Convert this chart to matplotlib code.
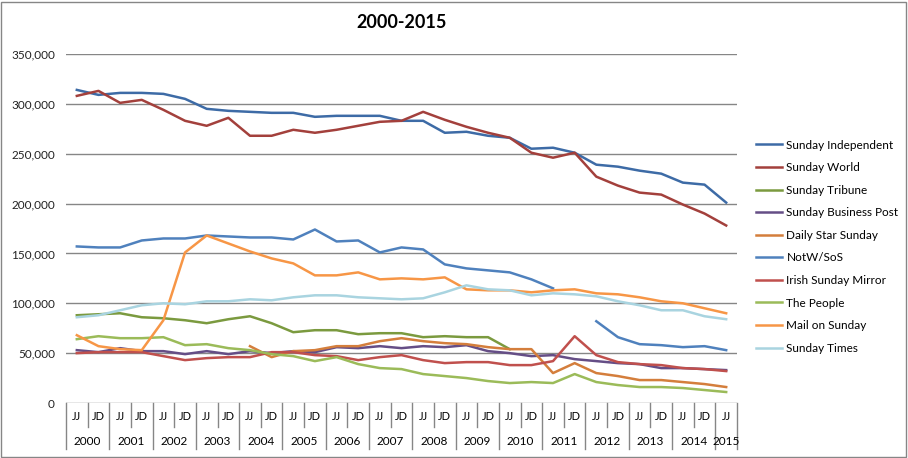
import numpy as np
import matplotlib
matplotlib.use('Agg')
import matplotlib.pyplot as plt
from matplotlib.patches import Rectangle

plt.rcParams['font.family'] = ['Lato', 'DejaVu Sans']

nan = np.nan
years = [str(y) for y in range(2000, 2016)]
periods = ['JJ', 'JD'] * 15 + ['JJ']

sunday_independent = [314, 309, 311, 311, 310, 305, 295, 293, 292, 291, 291, 287, 288, 288, 288, 283,
                      283, 271, 272, 268, 266, 255, 256, 251, 239, 237, 233, 230, 221, 219, 201]
sunday_world = [308, 313, 301, 304, 294, 283, 278, 286, 268, 268, 274, 271, 274, 278, 282, 283,
                292, 284, 277, 271, 266, 251, 246, 251, 227, 218, 211, 209, 199, 190, 178]
sunday_tribune = [88, 89, 90, 86, 85, 83, 80, 84, 87, 80, 71, 73, 73, 69, 70, 70,
                  66, 67, 66, 66, 54, nan, nan, nan, nan, nan, nan, nan, nan, nan, nan]
sunday_business_post = [53, 51, 55, 52, 52, 49, 52, 49, 52, 50, 52, 51, 56, 55, 57, 55,
                        57, 56, 58, 52, 50, 47, 48, 44, 42, 40, 39, 35, 35, 34, 33]
daily_star_sunday = [nan, nan, nan, nan, nan, nan, nan, nan, 57, 46, 52, 53, 57, 57, 62, 65,
                     62, 60, 59, 56, 54, 54, 30, 40, 30, 27, 23, 23, 21, 19, 16]
notw_sos = [157, 156, 156, 163, 165, 165, 168, 167, 166, 166, 164, 174, 162, 163, 151, 156,
            154, 139, 135, 133, 131, 124, 115, nan, 82, 66, 59, 58, 56, 57, 53]
irish_sunday_mirror = [50, 51, 51, 51, 47, 43, 45, 46, 46, 51, 51, 48, 47, 43, 46, 48,
                       43, 40, 41, 41, 38, 38, 42, 67, 48, 41, 39, 38, 35, 34, 32]
the_people = [64, 67, 65, 65, 66, 58, 59, 55, 53, 49, 47, 42, 46, 39, 35, 34,
              29, 27, 25, 22, 20, 21, 20, 29, 21, 18, 16, 16, 15, 13, 11]
mail_on_sunday = [68, 57, 54, 53, 83, 151, 168, 160, 152, 145, 140, 128, 128, 131, 124, 125,
                  124, 126, 114, 113, 113, 111, 113, 114, 110, 109, 106, 102, 100, 95, 90]
sunday_times = [86, 88, 93, 98, 100, 99, 102, 102, 104, 103, 106, 108, 108, 106, 105, 104,
                105, 111, 118, 114, 113, 108, 110, 109, 107, 102, 98, 93, 93, 87, 84]

series = [
    ('Sunday Independent', sunday_independent, '#3D6BA6'),
    ('Sunday World', sunday_world, '#A3403C'),
    ('Sunday Tribune', sunday_tribune, '#7B9A3F'),
    ('Sunday Business Post', sunday_business_post, '#654E86'),
    ('Daily Star Sunday', daily_star_sunday, '#D47E3C'),
    ('NotW/SoS', notw_sos, '#4F81BD'),
    ('Irish Sunday Mirror', irish_sunday_mirror, '#C0504D'),
    ('The People', the_people, '#9BBB59'),
    ('Mail on Sunday', mail_on_sunday, '#F79646'),
    ('Sunday Times', sunday_times, '#A9D4E0'),
]

fig = plt.figure(figsize=(9.08, 4.58), dpi=100)
ax = fig.add_axes([66 / 908, 1 - 403 / 458, 671 / 908, 349 / 458])

x = np.arange(len(periods))
for name, vals, col in series:
    ax.plot(x, np.array(vals, dtype=float) * 1000, color=col, lw=1.8, label=name)

ax.set_xlim(-0.5, len(periods) - 0.5)
ax.set_ylim(0, 350000)
ax.set_yticks(range(0, 350001, 50000))
ax.set_yticklabels(['{:,}'.format(v) for v in range(0, 350001, 50000)])
ax.yaxis.grid(True, color='#868686', lw=1)
ax.set_axisbelow(True)
for s in ax.spines.values():
    s.set_visible(False)
ax.tick_params(axis='y', length=0, pad=8, labelsize=8.5, labelcolor='#222222')
ax.set_xticks([])

# two level category axis
tr = ax.get_xaxis_transform()
for k in range(len(periods) + 1):
    bottom = -0.069 if k % 2 == 1 and k < 30 else -0.132
    ax.plot([k - 0.5, k - 0.5], [0, bottom], transform=tr, color='#868686', lw=1, clip_on=False)
for i, p in enumerate(periods):
    ax.text(i, -0.040, p, transform=tr, ha='center', va='center', fontsize=8)
for j, yr in enumerate(years):
    xc = 2 * j + 0.5 if j < 15 else 30
    ax.text(xc, -0.109, yr, transform=tr, ha='center', va='center', fontsize=8.5)

ax.set_title('2000-2015', fontsize=13, fontweight='bold', pad=19)

ax.legend(loc='center left', bbox_to_anchor=(1.013, 0.448), frameon=False, fontsize=8.5,
          handlelength=2.2, labelspacing=0.98, handletextpad=0.35)

fig.patches.append(Rectangle((1 / 908, 1 / 458), 905 / 908, 455 / 458, transform=fig.transFigure,
                             fill=False, edgecolor='#868686', lw=1))

fig.savefig('out.png', dpi=100)
